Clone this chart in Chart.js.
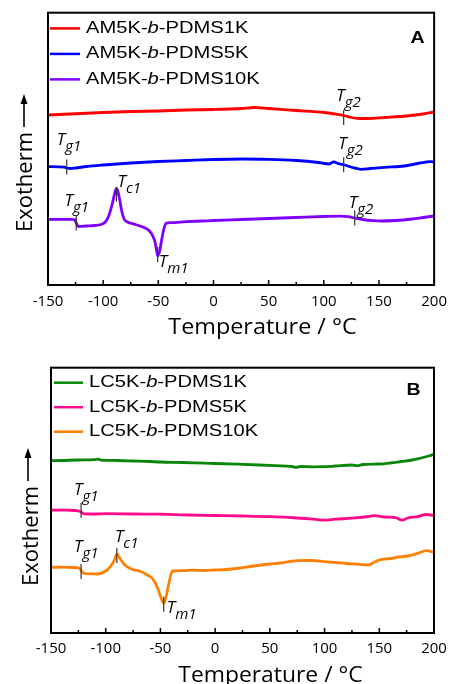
<!DOCTYPE html>
<html>
<head>
<meta charset="utf-8">
<script src="https://cdn.jsdelivr.net/npm/chart.js@4.4.1/dist/chart.umd.min.js"></script>
<style>
    html, body { margin: 0; padding: 0; background: #fff; }
    .panel { position: absolute; left: 0; width: 455px; height: 342px; }
    #panelA { top: 0; }
    #panelB { top: 342px; }
</style>
</head>
<body>
<div class="panel" id="panelA"><canvas id="chartA"></canvas></div>
<div class="panel" id="panelB"><canvas id="chartB"></canvas></div>
<script>
// x axis (temperature, °C)
const tempTicks = [-150, -100, -50, 0, 50, 100, 150, 200];
const xTitle = 'Temperature / °C';

// Panel A - AM5K-b-PDMS (heat flow, arbitrary units)
const labelsA = ['AM5K-b-PDMS1K', 'AM5K-b-PDMS5K', 'AM5K-b-PDMS10K'];
const am1kTemp = [-150, -130, -100, -75, -50, -25, 0, 25, 37, 50, 75, 100, 110, 118, 125, 132, 140, 155, 175, 190, 200];
const am1kHeat = [170, 171, 172.5, 173.5, 174, 175, 175.5, 176.5, 177.5, 176.5, 174.5, 172.5, 171, 169.5, 167.5, 166.5, 166.5, 167.5, 169, 171, 173];
const am5kTemp = [-150, -140, -135, -133, -130, -125, -115, -100, -75, -50, -25, 0, 25, 50, 75, 95, 105, 109, 113, 119, 126, 134, 142, 155, 173, 185, 197, 200];
const am5kHeat = [118.3, 118.2, 117.8, 117, 116.5, 117, 118.5, 120, 122, 123.5, 124.5, 125.5, 126, 125.7, 124.5, 122.5, 121, 123.2, 121.5, 120, 117.5, 115.7, 116.5, 117.7, 119, 121.5, 123.3, 123];
const am10kTemp = [-150, -140, -130, -126, -124.4, -122.5, -115, -108, -102, -98, -95, -92, -89, -88, -87, -85, -83, -81, -78, -74, -68, -62, -58, -55, -53, -51.5, -50.5, -49, -47, -45, -43, -38, -25, -10, 0, 25, 50, 75, 100, 115, 122, 128, 135, 145, 152, 165, 180, 190, 200];
const am10kHeat = [65.7, 65.7, 65.6, 65.4, 62, 58.5, 59, 59.5, 60.5, 63, 69, 80, 94, 96.7, 95, 85, 73, 66, 63, 61.5, 59.5, 57, 54, 49, 43, 34, 29, 33, 45, 56, 61.7, 62.3, 63.3, 64, 64.5, 65.5, 66.5, 67.5, 68.5, 68.8, 68.3, 67, 65.5, 64.3, 64, 64.5, 66, 67.5, 69];

// Panel B - LC5K-b-PDMS
const labelsB = ['LC5K-b-PDMS1K', 'LC5K-b-PDMS5K', 'LC5K-b-PDMS10K'];
const lc1kTemp = [-150, -140, -125, -110, -107, -104, -90, -75, -60, -50, -30, -10, 0, 20, 40, 55, 70, 74, 78, 90, 100, 110, 125, 130, 135, 150, 160, 170, 180, 188, 195, 200];
const lc1kHeat = [172.3, 172.5, 173, 173.3, 173.8, 172.9, 172.5, 172, 171.5, 171, 170.5, 169.8, 169.5, 168.8, 168, 167.3, 166.5, 165.6, 166.5, 166.2, 166.3, 167, 168, 167.4, 168.5, 169, 170, 171.5, 173, 175, 177, 178.7];
const lc5kTemp = [-150, -135, -125, -122.5, -120, -110, -100, -75, -50, -25, 0, 25, 50, 75, 90, 100, 110, 125, 140, 145, 155, 165, 171, 176, 185, 193, 200];
const lc5kHeat = [123, 122.8, 122.2, 121, 119.2, 119, 119.3, 119, 118.8, 118, 117.5, 117, 116.3, 115, 113.8, 112.8, 113.8, 114.8, 116.5, 117.3, 116, 115.3, 112.8, 115, 116.3, 118.5, 117.5];
const lc10kTemp = [-150, -140, -130, -124, -122.5, -120, -114, -108, -100, -95, -92, -89.8, -87, -83, -76, -68, -62, -57, -53, -50, -47, -44.5, -42, -39, -30, -20, -10, 0, 10, 20, 35, 50, 60, 75, 88, 100, 110, 120, 130, 140, 145, 150, 160, 168, 176, 185, 193, 200];
const lc10kHeat = [65.7, 65.8, 65.5, 65, 62.5, 59.7, 59.2, 59, 62, 67.5, 73, 79, 74.5, 68.5, 63.7, 61.5, 58, 54, 46, 37, 29.7, 38, 51, 62, 62.3, 62.8, 62.5, 63, 63.5, 64.5, 67, 69, 70, 72.3, 72.5, 71.3, 70.5, 69.5, 68.8, 68, 70.5, 73, 74.5, 76, 77, 79.5, 82.3, 80.7];

// transitions: [series index, temperature, subscript]
const marksA = [[0, 118, 'g2'], [1, -133, 'g1'], [1, 118, 'g2'], [2, -124.4, 'g1'], [2, -88, 'c1'], [2, -50.6, 'm1'], [2, 128, 'g2']];
const marksB = [[1, -122.5, 'g1'], [2, -122.5, 'g1'], [2, -89.8, 'c1'], [2, -47, 'm1']];

const sansFont = '"Liberation Sans", Arial, Helvetica, sans-serif';

function series(temps, heat) {
    return temps.map((t, i) => ({ x: t, y: heat[i] }));
}

function valueAt(data, t) {
    for (let i = 1; i < data.length; i++) {
        if (data[i].x >= t) {
            const a = data[i - 1], b = data[i];
            return a.y + (b.y - a.y) * (t - a.x) / (b.x - a.x);
        }
    }
    return data[data.length - 1].y;
}

// draws text pieces side by side, stretched horizontally
function drawParts(ctx, parts, x, y, sx) {
    ctx.save();
    ctx.translate(x, y);
    ctx.scale(sx, 1);
    let cx = 0;
    parts.forEach(p => {
        ctx.font = p[1];
        ctx.fillText(p[0], cx, 0);
        cx += ctx.measureText(p[0]).width;
    });
    ctx.restore();
}

const panelDecor = {
    id: 'panelDecor',
    afterDatasetsDraw(chart, args, o) {
        const ctx = chart.ctx;
        const area = chart.chartArea;
        const xs = chart.scales.x, ys = chart.scales.y;
        ctx.save();

        // frame
        ctx.strokeStyle = '#000';
        ctx.lineWidth = 2;
        ctx.strokeRect(area.left, area.top, area.right - area.left, area.bottom - area.top);

        // inward ticks on the bottom axis
        ctx.lineWidth = 1.5;
        for (let t = xs.min; t <= xs.max; t += 25) {
            const px = xs.getPixelForValue(t);
            const len = t % 50 === 0 ? 5 : 3;
            ctx.beginPath();
            ctx.moveTo(px, area.bottom);
            ctx.lineTo(px, area.bottom - len);
            ctx.stroke();
        }

        // axis title
        ctx.fillStyle = '#000';
        ctx.textAlign = 'left';
        ctx.textBaseline = 'alphabetic';
        ctx.font = '22px "Open Sans"';
        const titleScale = o.titleWidth / ctx.measureText(xTitle).width;
        drawParts(ctx, [[xTitle, '22px "Open Sans"']], o.titleX, o.titleY, titleScale);

        // transition marks
        o.marks.forEach((m, i) => {
            const pl = o.place[i];
            const data = chart.data.datasets[m[0]].data;
            const px = xs.getPixelForValue(m[1]);
            const py = ys.getPixelForValue(valueAt(data, m[1]));
            ctx.strokeStyle = '#333';
            ctx.lineWidth = 1.2;
            ctx.beginPath();
            ctx.moveTo(px, py + pl[2] - 7.5);
            ctx.lineTo(px, py + pl[2] + 7.5);
            ctx.stroke();
            ctx.fillStyle = '#000';
            ctx.textAlign = 'left';
            ctx.textBaseline = 'alphabetic';
            ctx.font = 'italic 17px "Open Sans"';
            const tx = px + pl[0], ty = py + pl[1];
            ctx.fillText('T', tx, ty);
            const w = ctx.measureText('T').width;
            ctx.font = 'italic 15px "Open Sans"';
            ctx.fillText(m[2], tx + w, ty + 6);
        });

        // legend
        ctx.textAlign = 'left';
        ctx.textBaseline = 'middle';
        chart.data.datasets.forEach((ds, i) => {
            const y = o.legendY + i * o.legendGap;
            ctx.strokeStyle = ds.borderColor;
            ctx.lineWidth = 2.5;
            ctx.beginPath();
            ctx.moveTo(o.legendX, y);
            ctx.lineTo(o.legendX + o.legendLine, y);
            ctx.stroke();
            const bits = ds.label.split('-b-');
            ctx.fillStyle = '#000';
            drawParts(ctx, [
                [bits[0] + '-', '16px ' + sansFont],
                ['b', 'italic 16px ' + sansFont],
                ['-' + bits[1], '16px ' + sansFont]
            ], o.legendX + o.legendLine + 6, y, 1.26);
        });

        // panel letter
        ctx.textAlign = 'center';
        ctx.textBaseline = 'alphabetic';
        drawParts(ctx, [[o.letter, 'bold 17px ' + sansFont]], o.letterX, o.letterY, 1.15);

        // Exotherm with arrow
        ctx.save();
        ctx.translate(o.exoX, o.exoY);
        ctx.rotate(-Math.PI / 2);
        ctx.textAlign = 'left';
        ctx.textBaseline = 'alphabetic';
        ctx.font = '22px "Open Sans"';
        ctx.fillText('Exotherm', 0, 0);
        const tw = ctx.measureText('Exotherm').width;
        ctx.restore();
        const tail = o.exoY - tw - 5;
        const tip = tail - 33;
        ctx.strokeStyle = '#000';
        ctx.fillStyle = '#000';
        ctx.lineWidth = 1.6;
        ctx.beginPath();
        ctx.moveTo(o.arrowX, tail);
        ctx.lineTo(o.arrowX, tip + 6);
        ctx.stroke();
        ctx.beginPath();
        ctx.moveTo(o.arrowX, tip);
        ctx.lineTo(o.arrowX - 3.5, tip + 10);
        ctx.lineTo(o.arrowX + 3.5, tip + 10);
        ctx.closePath();
        ctx.fill();

        ctx.restore();
    }
};

function makeChart(canvasId, labels, colors, curves, yMax, pad, axisHeight, tickPad, decor) {
    const datasets = curves.map((c, i) => ({
        label: labels[i],
        data: series(c[0], c[1]),
        borderColor: colors[i],
        borderWidth: 2.8,
        pointRadius: 0,
        fill: false,
        cubicInterpolationMode: 'monotone',
        borderJoinStyle: 'round'
    }));
    return new Chart(document.getElementById(canvasId), {
        type: 'line',
        data: { datasets: datasets },
        options: {
            responsive: true,
            maintainAspectRatio: false,
            animation: false,
            layout: { padding: pad },
            plugins: {
                legend: { display: false },
                tooltip: { enabled: false },
                panelDecor: decor
            },
            scales: {
                x: {
                    type: 'linear',
                    min: tempTicks[0],
                    max: tempTicks[tempTicks.length - 1],
                    grid: { display: false, drawTicks: false },
                    border: { display: false },
                    ticks: {
                        stepSize: 50,
                        color: '#000',
                        padding: tickPad,
                        font: { family: 'Open Sans', size: 15 }
                    },
                    title: { display: false, text: xTitle },
                    afterFit: function(scale) { scale.height = axisHeight; }
                },
                y: {
                    display: false,
                    min: 0,
                    max: yMax
                }
            }
        },
        plugins: [panelDecor]
    });
}

makeChart('chartA', labelsA, ['#ff0000', '#0000ff', '#8000ff'],
    [[am1kTemp, am1kHeat], [am5kTemp, am5kHeat], [am10kTemp, am10kHeat]],
    272.3, { left: 48, right: 15, top: 12.7, bottom: 0 }, 57, 8,
    {
        marks: marksA,
        place: [[-7.5, -14.5, 2], [-10, -23, -1], [-5.5, -15.7, 0], [-11.7, -17, 0], [1, -1.3, 6], [1, 11, -1], [-6, -10, 0]],
        legendX: 50, legendY: 28.4, legendGap: 25.5, legendLine: 30,
        letter: 'A', letterX: 417.5, letterY: 43.3,
        exoX: 31.5, exoY: 232, arrowX: 24,
        titleX: 168.3, titleY: 334, titleWidth: 188.4
    });

makeChart('chartB', labelsB, ['#0a870a', '#ff0a8c', '#ff8000'],
    [[lc1kTemp, lc1kHeat], [lc5kTemp, lc5kHeat], [lc10kTemp, lc10kHeat]],
    265.3, { left: 51, right: 21, top: 25.7, bottom: 0 }, 51, 7,
    {
        marks: marksB,
        place: [[-7, -17, -1.5], [-7, -18.5, 1], [-2, -12, 1.5], [3, 10, 1]],
        legendX: 54, legendY: 40.7, legendGap: 24.5, legendLine: 29,
        letter: 'B', letterX: 413.5, letterY: 53,
        exoX: 37.5, exoY: 244, arrowX: 28,
        titleX: 178.3, titleY: 339.7, titleWidth: 184.4
    });
</script>
</body>
</html>
